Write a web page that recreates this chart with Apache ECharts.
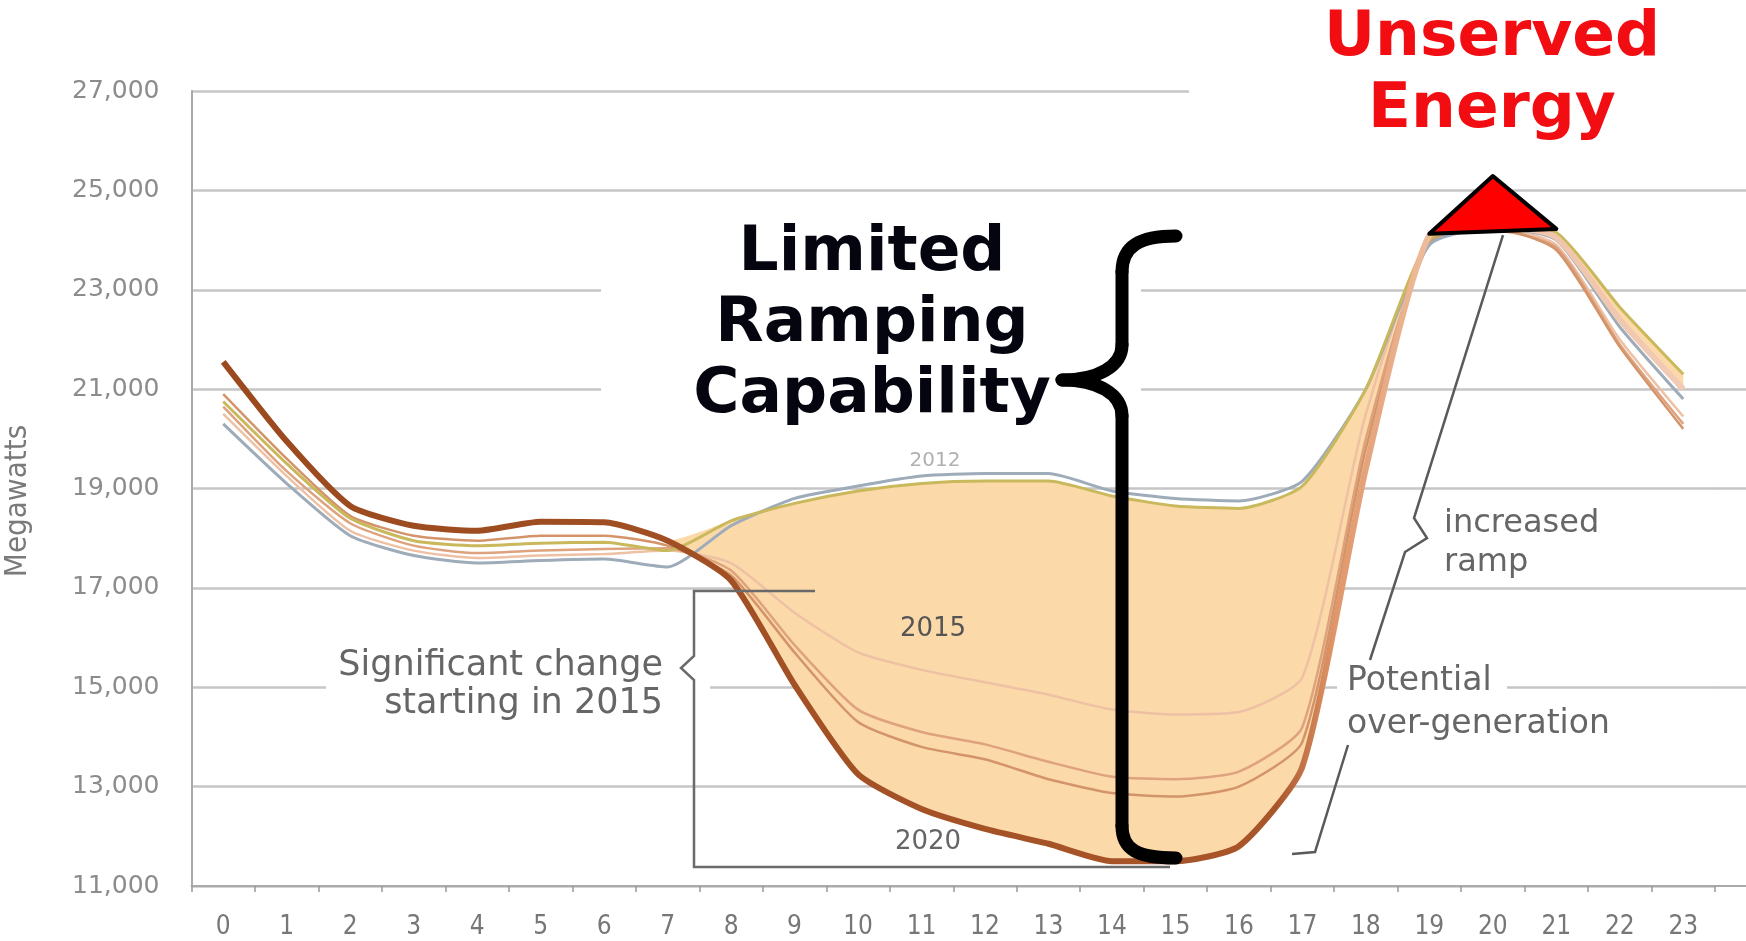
<!DOCTYPE html>
<html>
<head>
<meta charset="utf-8">
<title>Net load - ramping</title>
<script src="https://cdn.jsdelivr.net/npm/echarts@6/dist/echarts.min.js"></script>
<style>
  html, body { margin: 0; padding: 0; background: #fff; }
  #chart { width: 1746px; height: 941px; }
</style>
</head>
<body>
<div id="chart"></div>
<script>
// hours of the day
var hours = ['0', '1', '2', '3', '4', '5', '6', '7', '8', '9', '10', '11', '12', '13', '14', '15', '16', '17', '18', '19', '20', '21', '22', '23']
var yTicks = [11000, 13000, 15000, 17000, 19000, 21000, 23000, 25000, 27000]

// net load curves (MW)
var load2012 = [20300, 19100, 18050, 17650, 17500, 17550, 17580, 17420, 18250, 18800, 19050, 19250, 19300, 19300, 18950, 18800, 18750, 19150, 21000, 23900, 24250, 24000, 22250, 20800]
var load2013 = [20750, 19500, 18400, 17950, 17850, 17900, 17920, 17750, 18350, 18700, 18950, 19100, 19150, 19150, 18850, 18650, 18600, 19050, 21000, 24000, 24300, 24150, 22650, 21300]
var load2015 = [20500, 19250, 18150, 17750, 17600, 17650, 17680, 17750, 17500, 16500, 15700, 15350, 15100, 14850, 14550, 14450, 14500, 15200, 20500, 24050, 24250, 23900, 22000, 20450]
var load2016 = [20650, 19350, 18300, 17850, 17700, 17750, 17780, 17800, 17350, 15850, 14550, 14100, 13850, 13500, 13200, 13150, 13300, 14200, 20000, 24000, 24200, 23850, 21900, 20300]
var load2017 = [20900, 19600, 18450, 18050, 17950, 18050, 18050, 17850, 17250, 15700, 14300, 13800, 13550, 13150, 12870, 12800, 13000, 13900, 19800, 23950, 24250, 23800, 21850, 20200]
var load2020 = [21550, 19950, 18650, 18250, 18150, 18330, 18320, 17950, 17150, 15050, 13250, 12550, 12150, 11850, 11500, 11500, 11800, 13400, 19400, 24100, 24300, 24050, 22400, 21000]

// "unserved energy" triangle on top of the peak
var triHours = [19, 20, 21]
var triValues = [24125, 25290, 24225]

// band between 2013 and 2020 (only where 2013 is above)
var bandDiff = load2013.map(function(v, i) { return Math.max(0, v - load2020[i]) })

var chart = echarts.init(document.getElementById('chart'))

var fillColor = '#fcd9a9'
var smooth = 0.2
var gridColor = '#c6c6c6'

function yearLine(name, data, color, width) {
  return {
    name: name,
    type: 'line',
    data: data,
    smooth: smooth,
    symbol: 'none',
    z: 3,
    silent: true,
    lineStyle: { color: color, width: width }
  }
}

var gray = '#666'
var annoFont = "'DejaVu Sans'"
var braceStyle = { fill: 'none', stroke: '#000', lineWidth: 13, lineCap: 'round' }

function curve(x1, y1, c1x, c1y, c2x, c2y, x2, y2) {
  return {
    type: 'bezierCurve', z: 100,
    shape: { x1: x1, y1: y1, cpx1: c1x, cpy1: c1y, cpx2: c2x, cpy2: c2y, x2: x2, y2: y2 },
    style: braceStyle
  }
}
function poly(points, color) {
  return {
    type: 'polyline', z: 100,
    shape: { points: points },
    style: { fill: 'none', stroke: color, lineWidth: 2.5 }
  }
}
// same snapping zrender uses for crisp axis lines
function crisp(pos, width) {
  var d = Math.round(pos * 2)
  return (d + Math.round(width)) % 2 === 0 ? d / 2 : (d + 1) / 2
}

chart.setOption({
  animation: false,
  backgroundColor: '#fff',
  grid: { left: 191.5, right: 31, top: 91, bottom: 55, containLabel: false },
  xAxis: {
    type: 'category',
    data: hours,
    boundaryGap: true,
    axisLine: { lineStyle: { color: '#aaa', width: 2 } },
    axisTick: { show: true, alignWithLabel: false, length: 6, lineStyle: { color: '#999', width: 1.5 } },
    axisLabel: {
      color: '#777',
      fontSize: 26,
      fontFamily: "'DejaVu Sans Condensed', 'DejaVu Sans'",
      margin: 28
    },
    splitLine: { show: false }
  },
  yAxis: {
    type: 'value',
    min: 11000,
    max: 27000,
    interval: 1000,
    axisLine: { show: true, lineStyle: { color: '#aaa', width: 2 } },
    axisTick: { show: false },
    axisLabel: {
      color: '#8c8c8c',
      fontSize: 25,
      fontFamily: "'DejaVu Sans'",
      margin: 32,
      formatter: function(v) {
        return yTicks.indexOf(v) >= 0 ? v.toLocaleString('en-US') : ''
      }
    },
    splitLine: {
      show: true,
      // only every other line (odd thousands)
      lineStyle: { color: [gridColor, 'rgba(0,0,0,0)'], width: 2.5 }
    }
  },
  series: [
    {
      name: 'base',
      type: 'line',
      data: load2020,
      stack: 'band',
      smooth: smooth,
      symbol: 'none',
      silent: true,
      lineStyle: { opacity: 0 }
    },
    {
      name: 'band',
      type: 'line',
      data: bandDiff,
      stack: 'band',
      smooth: smooth,
      symbol: 'none',
      silent: true,
      lineStyle: { opacity: 0 },
      areaStyle: { color: fillColor, opacity: 1 }
    },
    yearLine('2015', load2015, '#eec0a4', 2.5),
    yearLine('2016', load2016, '#dea27e', 2.5),
    yearLine('2017', load2017, '#d3946a', 2.5),
    yearLine('2012', load2012, '#9eabb9', 3),
    yearLine('2013', load2013, '#c9b85c', 3),
    {
      name: '2020',
      type: 'line',
      data: load2020,
      smooth: smooth,
      symbol: 'none',
      z: 4,
      silent: true,
      lineStyle: {
        width: 6,
        color: new echarts.graphic.LinearGradient(0, 0, 1, 0, [
          { offset: 0, color: '#9a4a1e' },
          { offset: 0.72, color: '#a9552a' },
          { offset: 0.76, color: '#e0966a' },
          { offset: 0.83, color: '#f0c0a0' },
          { offset: 1, color: '#f1cbb6' }
        ])
      }
    },
    {
      name: 'unserved',
      type: 'custom',
      z: 10,
      silent: true,
      data: triHours.map(function(h, i) { return [h, triValues[i]] }),
      renderItem: function(params, api) {
        if (params.dataIndex !== 0) return
        var pts = triHours.map(function(h, i) { return api.coord([h, triValues[i]]) })
        return {
          type: 'polygon',
          shape: { points: pts },
          style: { fill: '#ff0000', stroke: '#000', lineWidth: 4, lineJoin: 'round' }
        }
      }
    }
  ]
})

// grid lines in the picture run on to the right edge of the image
var gridRight = 1746 - 31
var extras = []
yTicks.slice(0, yTicks.length - 1).forEach(function(v) {
  var isAxis = v === yTicks[0]
  var w = isAxis ? 2 : 2.5
  var y = crisp(chart.convertToPixel({ yAxisIndex: 0 }, v), w)
  extras.push({
    type: 'line', z: 0,
    shape: { x1: gridRight - 1, y1: y, x2: 1746, y2: y },
    style: { stroke: isAxis ? '#aaa' : gridColor, lineWidth: w }
  })
})

chart.setOption({
  graphic: extras.concat([
    // white boxes behind the call-outs (they cut the grid lines)
    { type: 'rect', z: 1, shape: { x: 601, y: 206, width: 540, height: 234 }, style: { fill: '#fff' } },
    { type: 'rect', z: 1, shape: { x: 1189, y: 0, width: 557, height: 145 }, style: { fill: '#fff' } },
    { type: 'rect', z: 1, shape: { x: 326, y: 645, width: 384, height: 80 }, style: { fill: '#fff' } },
    { type: 'rect', z: 1, shape: { x: 1337, y: 664, width: 170, height: 44 }, style: { fill: '#fff' } },

    {
      type: 'text', z: 100, x: 18, y: 501, rotation: Math.PI / 2,
      style: {
        text: 'Megawatts', fill: '#7a7a7a', font: "31px 'DejaVu Sans Condensed', 'DejaVu Sans'",
        textAlign: 'center', textVerticalAlign: 'middle'
      }
    },
    {
      type: 'text', z: 100, x: 1492, y: 75,
      style: {
        text: 'Unserved\nEnergy', fill: '#f20d12', font: "bold 63px 'DejaVu Sans'",
        lineHeight: 72, textAlign: 'center', textVerticalAlign: 'middle'
      }
    },
    {
      type: 'text', z: 100, x: 872, y: 325,
      style: {
        text: 'Limited\nRamping\nCapability', fill: '#050510', font: "bold 63px 'DejaVu Sans'",
        lineHeight: 71, textAlign: 'center', textVerticalAlign: 'middle'
      }
    },
    // big curly brace
    curve(1176, 236, 1140, 236, 1122, 246, 1122, 272),
    { type: 'line', z: 100, shape: { x1: 1122, y1: 272, x2: 1122, y2: 345 }, style: braceStyle },
    curve(1122, 345, 1122, 366, 1098, 380, 1062, 380),
    curve(1062, 380, 1098, 380, 1122, 394, 1122, 416),
    { type: 'line', z: 100, shape: { x1: 1122, y1: 416, x2: 1122, y2: 826 }, style: braceStyle },
    curve(1122, 826, 1122, 850, 1138, 858, 1176, 858),

    {
      type: 'text', z: 100, x: 663, y: 685,
      style: {
        text: 'Significant change\nstarting in 2015', fill: gray, font: '35px ' + annoFont,
        lineHeight: 38, textAlign: 'right', textVerticalAlign: 'middle'
      }
    },
    poly([[815, 591], [694, 591], [694, 656], [681, 668], [694, 680], [694, 867], [1170, 867]], '#6a6a6a'),
    {
      type: 'text', z: 100, x: 1444, y: 543,
      style: {
        text: 'increased\nramp', fill: gray, font: '32px ' + annoFont,
        lineHeight: 39, textAlign: 'left', textVerticalAlign: 'middle'
      }
    },
    poly([[1503, 235], [1414, 518], [1427, 538], [1405, 552], [1370, 660]], '#5a5a5a'),
    {
      type: 'text', z: 100, x: 1347, y: 703,
      style: {
        text: 'Potential\nover-generation', fill: gray, font: '33px ' + annoFont,
        lineHeight: 43, textAlign: 'left', textVerticalAlign: 'middle'
      }
    },
    poly([[1348, 745], [1315, 852], [1292, 854]], '#5a5a5a'),
    // year labels
    { type: 'text', z: 100, x: 933, y: 629, style: { text: '2015', fill: '#555', font: '26px ' + annoFont, textAlign: 'center', textVerticalAlign: 'middle' } },
    { type: 'text', z: 100, x: 928, y: 842, style: { text: '2020', fill: '#666', font: '26px ' + annoFont, textAlign: 'center', textVerticalAlign: 'middle' } },
    { type: 'text', z: 100, x: 935, y: 461, style: { text: '2012', fill: '#b0b0b0', font: '20px ' + annoFont, textAlign: 'center', textVerticalAlign: 'middle' } }
  ])
})
</script>
</body>
</html>
